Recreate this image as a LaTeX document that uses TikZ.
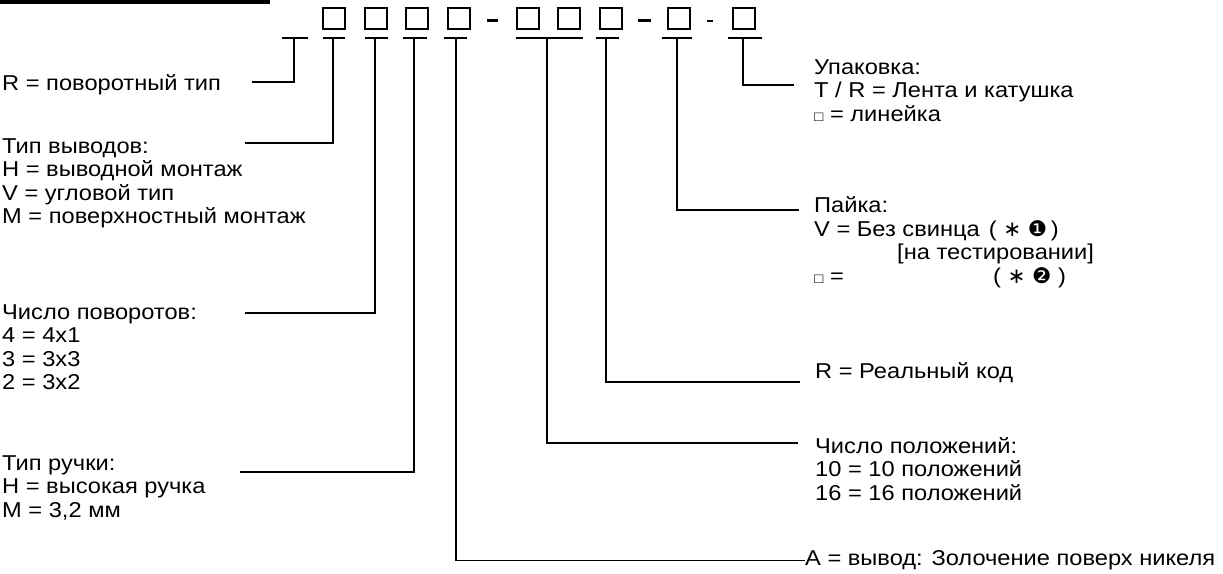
\documentclass[tikz,border=0pt]{standalone}
\usepackage{fontspec}
\setmainfont{Liberation Sans}[FakeStretch=1.1]
\newfontfamily\symfont{DejaVu Sans}
\begin{document}
\begin{tikzpicture}[x=1pt, y=-1pt,
    lead/.style={line width=1.7pt},
    codebox/.style={draw, line width=1.6pt, minimum width=22pt, minimum height=21pt, inner sep=0pt},
    legend/.style={anchor=north west, inner sep=0pt, align=left, font=\fontsize{21.5}{23.5}\selectfont}]
    \useasboundingbox (0,0) rectangle (1223,573);

    % Title bar
    \draw [line width=3.5pt] (0,1.75) -- (270,1.75);

    % Code boxes
    \node [codebox] (b1) at (334,18.5) {};
    \node [codebox] (b2) at (376,18.5) {};
    \node [codebox] (b3) at (417,18.5) {};
    \node [codebox] (b4) at (459,18.5) {};
    \node [codebox] (b5) at (528,18.5) {};
    \node [codebox] (b6) at (569,18.5) {};
    \node [codebox] (b7) at (611,18.5) {};
    \node [codebox] (b8) at (679,18.5) {};
    \node [codebox] (b9) at (744,18.5) {};

    % Dashes
    \draw [line width=3pt] (487,20) -- (498,20);
    \draw [line width=3pt] (638,20) -- (651,20);
    \draw [line width=1.2pt] (707,21) -- (713,21);

    % T-bars
    \coordinate (t1) at (294,38);
    \coordinate (t2) at (333,38);
    \coordinate (t3) at (375,38);
    \coordinate (t4) at (414,38);
    \coordinate (t5) at (456,38);
    \coordinate (t6) at (547,38);
    \coordinate (t7) at (606,38);
    \coordinate (t8) at (677,38);
    \coordinate (t9) at (743,38);
    \draw [lead] (282,38) -- (308,38);
    \draw [lead] (323,38) -- (345,38);
    \draw [lead] (365,38) -- (388,38);
    \draw [lead] (403,38) -- (427,38);
    \draw [lead] (444,38) -- (467,38);
    \draw [lead] (516,38) -- (583,38);
    \draw [lead] (596,38) -- (619,38);
    \draw [lead] (662,38) -- (692,38);
    \draw [lead] (728,38) -- (762,38);

    % Left legends
    \node [legend] (rtype) at (2,74) {R = поворотный тип};
    \node [legend] (pins) at (2,138.5) {Тип выводов:\\H = выводной монтаж\\V = угловой тип\\M = поверхностный монтаж};
    \node [legend] (turns) at (2,304.5) {Число поворотов:\\4 = 4x1\\3 = 3x3\\2 = 3x2};
    \node [legend] (knob) at (2,455.5) {Тип ручки:\\H = высокая ручка\\M = 3,2 мм};

    % Right legends
    \node [legend] (pack) at (814,59.5) {Упаковка:\\T / R = Лента и катушка\\{\fontsize{14}{14}\selectfont □} = линейка};
    \node [legend] (solder) at (814,196.5) {Пайка:\\V = Без свинца\hspace{9pt}(\ {\symfont ∗}\ {\symfont ❶}\,)\\\hspace*{83pt}[на тестировании]\\\makebox[179pt][l]{{\fontsize{14}{14}\selectfont □} =}(\ {\symfont ∗}\ {\symfont ❷}\ )};
    \node [legend] (real) at (815,362) {R = Реальный код};
    \node [legend] (npos) at (815,437) {Число положений:\\10 = 10 положений\\16 = 16 положений};
    \node [legend] (finish) at (805,550.5) {A = вывод: Золочение поверх никеля};

    % Leader lines
    \coordinate (e1) at (252,82);
    \coordinate (e2) at (245,143);
    \coordinate (e3) at (245,313);
    \coordinate (e4) at (240,472);
    \coordinate (e6) at (798,443);
    \coordinate (e7) at (800,382);
    \coordinate (e8) at (799,210);
    \coordinate (e9) at (794,85);
    \draw [lead] (t1) |- (e1);
    \draw [lead] (t2) |- (e2);
    \draw [lead] (t3) |- (e3);
    \draw [lead] (t4) |- (e4);
    \draw [lead] (t5) |- (finish.west);
    \draw [lead] (t6) |- (e6);
    \draw [lead] (t7) |- (e7);
    \draw [lead] (t8) |- (e8);
    \draw [lead] (t9) |- (e9);
\end{tikzpicture}
\end{document}
